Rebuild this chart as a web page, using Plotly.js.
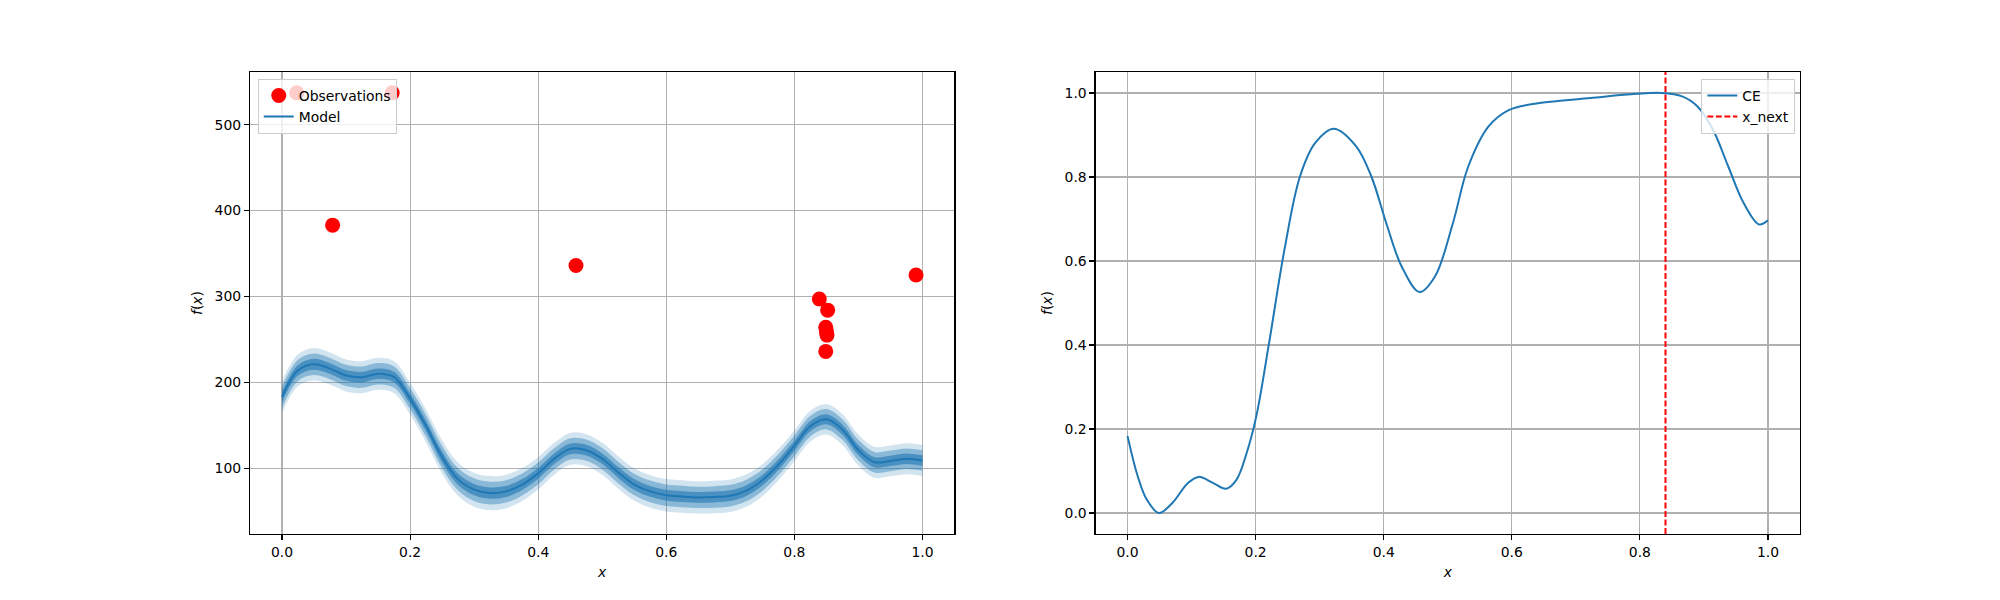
<!DOCTYPE html>
<html>
<head>
<meta charset="utf-8">
<script src="https://cdn.plot.ly/plotly-3.0.1.min.js"></script>
<style>
  body { margin: 0; background: #fff; }
  #graph { width: 2000px; height: 600px; }
</style>
</head>
<body>
<div id="graph"></div>
<script>
// observations (red dots)
let obsX = [0.023, 0.172, 0.079, 0.459, 0.839, 0.852, 0.849, 0.850, 0.851, 0.849, 0.990];
let obsY = [537, 537, 383, 336, 297, 284, 264, 259, 255, 236, 325];

// GP model mean and std on a 0.025 grid
let gridX = [0, 0.025, 0.05, 0.075, 0.1, 0.125, 0.15, 0.175, 0.2, 0.225,
             0.25, 0.275, 0.3, 0.325, 0.35, 0.375, 0.4, 0.425, 0.45, 0.475,
             0.5, 0.525, 0.55, 0.575, 0.6, 0.625, 0.65, 0.675, 0.7, 0.725,
             0.75, 0.775, 0.8, 0.825, 0.85, 0.875, 0.9, 0.925, 0.95, 0.975, 1.0];
let modelMean = [183, 214, 221, 216, 208, 206, 210, 206, 181, 149,
                 113, 87, 75, 71, 73, 81, 94, 111, 122.5, 121,
                 111, 95, 81, 73, 68.5, 67, 66, 66.5, 68, 74,
                 86, 104, 126, 149, 157, 145, 121, 107, 108.5, 111, 109];
let modelStd = [6.2, 6.2, 6.3, 6.2, 6.2, 6.2, 6.2, 6.2, 6.2, 6.4,
                6.5, 6.5, 6.6, 6.6, 6.5, 6.4, 6.3, 6.2, 6.2, 6.2,
                6.2, 6.3, 6.3, 6.3, 6.3, 6.3, 6.2, 6.3, 6.3, 6.3,
                6.2, 6.1, 6.0, 6.0, 5.9, 6.0, 6.0, 6.0, 6.0, 6.0, 6.0];

// acquisition curve (right panel)
let ceX = [0, 0.016, 0.030, 0.049, 0.070, 0.094, 0.111, 0.134, 0.154, 0.170,
           0.186, 0.201, 0.221, 0.245, 0.269, 0.293, 0.322, 0.357, 0.381, 0.404,
           0.428, 0.456, 0.480, 0.508, 0.532, 0.564, 0.596, 0.643, 0.723, 0.795,
           0.834, 0.866, 0.890, 0.914, 0.938, 0.962, 0.986, 1.0];
let ceY = [0.183, 0.087, 0.032, 0.0, 0.024, 0.071, 0.086, 0.071, 0.058, 0.079,
           0.143, 0.230, 0.405, 0.627, 0.800, 0.881, 0.915, 0.873, 0.800, 0.690,
           0.587, 0.526, 0.563, 0.690, 0.825, 0.921, 0.960, 0.976, 0.988, 0.998,
           1.0, 0.992, 0.968, 0.913, 0.825, 0.738, 0.687, 0.697];
let xNext = 0.84;

let blue = '#1f77b4';
let font = {family: 'DejaVu Sans', size: 13.9, color: '#000'};

let data = [];
data.push({
    x: obsX, y: obsY, type: 'scatter', mode: 'markers', name: 'Observations',
    marker: {color: '#ff0000', size: 15}, xaxis: 'x', yaxis: 'y', legend: 'legend'
});

// 3, 2, 1 sigma bands stacked like fill_between with alpha 0.2/0.4/0.6
let bands = [[3, 0.2], [2, 0.4], [1, 0.6]];
bands.forEach(function (b) {
    let k = b[0];
    let lower = modelMean.map((m, i) => m - k * modelStd[i]);
    let upper = modelMean.map((m, i) => m + k * modelStd[i]);
    data.push({
        x: gridX, y: lower, type: 'scatter', mode: 'lines',
        line: {width: 0, shape: 'spline'}, showlegend: false, hoverinfo: 'skip'
    });
    data.push({
        x: gridX, y: upper, type: 'scatter', mode: 'lines', fill: 'tonexty',
        fillcolor: 'rgba(31,119,180,' + b[1] + ')',
        line: {width: 0, shape: 'spline'}, showlegend: false, hoverinfo: 'skip'
    });
});

data.push({
    x: gridX, y: modelMean, type: 'scatter', mode: 'lines', name: 'Model',
    line: {color: blue, width: 2, shape: 'spline'}, legend: 'legend'
});

data.push({
    x: ceX, y: ceY, type: 'scatter', mode: 'lines', name: 'CE',
    line: {color: blue, width: 2, shape: 'spline'},
    xaxis: 'x2', yaxis: 'y2', legend: 'legend2'
});

let axisBase = {
    showline: true, mirror: true, linecolor: '#000', linewidth: 1.1,
    ticks: 'outside', ticklen: 5, tickwidth: 1.1, tickcolor: '#000',
    showgrid: true, gridcolor: '#b0b0b0', gridwidth: 1.1, zeroline: false,
    tickfont: font
};

let legendBase = {
    font: font, bgcolor: 'rgba(255,255,255,0.8)', bordercolor: '#cccccc',
    borderwidth: 1, yanchor: 'top', y: 0.985, traceorder: 'normal'
};

let layout = {
    width: 2000, height: 600,
    margin: {l: 250, r: 200, t: 72, b: 66},
    paper_bgcolor: '#fff', plot_bgcolor: '#fff',
    font: font,
    xaxis: Object.assign({}, axisBase, {
        domain: [0, 0.4545], range: [-0.05, 1.05], dtick: 0.2, tickformat: '.1f',
        title: {text: '<i>x</i>', font: font, standoff: 8}
    }),
    yaxis: Object.assign({}, axisBase, {
        range: [23.4, 561.3], dtick: 100,
        title: {text: '<i>f</i>(<i>x</i>)', font: font, standoff: 8}
    }),
    xaxis2: Object.assign({}, axisBase, {
        domain: [0.5455, 1], range: [-0.05, 1.05], dtick: 0.2, tickformat: '.1f',
        anchor: 'y2',
        title: {text: '<i>x</i>', font: font, standoff: 8}
    }),
    yaxis2: Object.assign({}, axisBase, {
        range: [-0.05, 1.05], dtick: 0.2, tickformat: '.1f', anchor: 'x2',
        title: {text: '<i>f</i>(<i>x</i>)', font: font, standoff: 8}
    }),
    legend: Object.assign({}, legendBase, {x: 0.005, xanchor: 'left'}),
    legend2: Object.assign({}, legendBase, {x: 0.997, xanchor: 'right'}),
    shapes: [{
        type: 'line', xref: 'x2', yref: 'y2 domain', x0: xNext, x1: xNext, y0: 0, y1: 1,
        line: {color: '#ff0000', width: 2, dash: '6px,2.5px'},
        showlegend: true, name: 'x_next', legend: 'legend2'
    }]
};

Plotly.newPlot('graph', data, layout, {staticPlot: true});
</script>
</body>
</html>
